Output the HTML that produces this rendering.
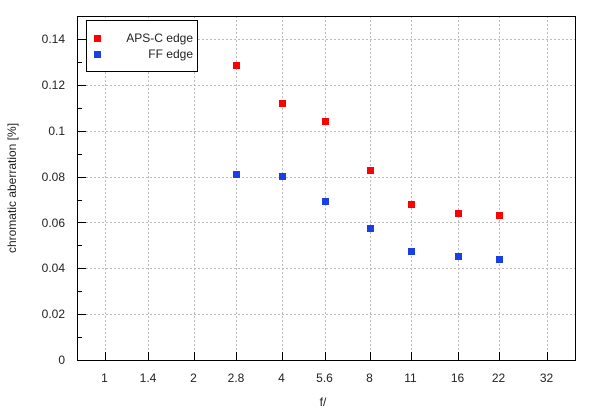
<!DOCTYPE html>
<html><head><style>body{margin:0;background:#fff}</style></head><body>
<svg width="600" height="415" xmlns="http://www.w3.org/2000/svg" font-family="Liberation Sans, sans-serif" font-size="12" fill="#222">
<rect width="600" height="415" fill="#fff"/>
<g stroke="#bbb" stroke-dasharray="2,2" stroke-width="1">
<line x1="78" x2="575" y1="314.5" y2="314.5"/><line x1="78" x2="575" y1="268.5" y2="268.5"/><line x1="78" x2="575" y1="222.5" y2="222.5"/><line x1="78" x2="575" y1="177.5" y2="177.5"/><line x1="78" x2="575" y1="131.5" y2="131.5"/><line x1="78" x2="575" y1="85.5" y2="85.5"/><line x1="78" x2="575" y1="39.5" y2="39.5"/>
<line x1="105.5" x2="105.5" y1="16" y2="360"/><line x1="148.5" x2="148.5" y1="16" y2="360"/><line x1="194.5" x2="194.5" y1="16" y2="360"/><line x1="236.5" x2="236.5" y1="16" y2="360"/><line x1="282.5" x2="282.5" y1="16" y2="360"/><line x1="325.5" x2="325.5" y1="16" y2="360"/><line x1="370.5" x2="370.5" y1="16" y2="360"/><line x1="411.5" x2="411.5" y1="16" y2="360"/><line x1="458.5" x2="458.5" y1="16" y2="360"/><line x1="499.5" x2="499.5" y1="16" y2="360"/><line x1="547.5" x2="547.5" y1="16" y2="360"/>
</g>
<g stroke="#000" stroke-width="1">
<line x1="78" x2="86" y1="314.5" y2="314.5"/><line x1="78" x2="86" y1="268.5" y2="268.5"/><line x1="78" x2="86" y1="222.5" y2="222.5"/><line x1="78" x2="86" y1="177.5" y2="177.5"/><line x1="78" x2="86" y1="131.5" y2="131.5"/><line x1="78" x2="86" y1="85.5" y2="85.5"/><line x1="78" x2="86" y1="39.5" y2="39.5"/>
<line x1="78" x2="82" y1="337.5" y2="337.5"/><line x1="78" x2="82" y1="291.5" y2="291.5"/><line x1="78" x2="82" y1="245.5" y2="245.5"/><line x1="78" x2="82" y1="200.5" y2="200.5"/><line x1="78" x2="82" y1="154.5" y2="154.5"/><line x1="78" x2="82" y1="108.5" y2="108.5"/><line x1="78" x2="82" y1="62.5" y2="62.5"/>
<line x1="105.5" x2="105.5" y1="352" y2="360"/><line x1="148.5" x2="148.5" y1="352" y2="360"/><line x1="194.5" x2="194.5" y1="352" y2="360"/><line x1="236.5" x2="236.5" y1="352" y2="360"/><line x1="282.5" x2="282.5" y1="352" y2="360"/><line x1="325.5" x2="325.5" y1="352" y2="360"/><line x1="370.5" x2="370.5" y1="352" y2="360"/><line x1="411.5" x2="411.5" y1="352" y2="360"/><line x1="458.5" x2="458.5" y1="352" y2="360"/><line x1="499.5" x2="499.5" y1="352" y2="360"/><line x1="547.5" x2="547.5" y1="352" y2="360"/>
</g>
<rect x="77.5" y="16.5" width="498" height="344" fill="none" stroke="#000"/>
<g text-anchor="end">
<text x="65" y="364">0</text><text x="65" y="318">0.02</text><text x="65" y="272">0.04</text><text x="65" y="227">0.06</text><text x="65" y="181">0.08</text><text x="65" y="135">0.1</text><text x="65" y="89">0.12</text><text x="65" y="43">0.14</text>
</g>
<g text-anchor="middle">
<text x="104.5" y="382">1</text><text x="148" y="382">1.4</text><text x="193.5" y="382">2</text><text x="236" y="382">2.8</text><text x="281.5" y="382">4</text><text x="324.5" y="382">5.6</text><text x="369.5" y="382">8</text><text x="410.5" y="382">11</text><text x="457.5" y="382">16</text><text x="498.5" y="382">22</text><text x="546.5" y="382">32</text>
<text x="323" y="406">f/</text>
<text transform="translate(16,188) rotate(-90)">chromatic aberration [%]</text>
</g>
<g fill="#f00">
<rect x="233" y="62" width="7" height="7"/><rect x="279" y="100" width="7" height="7"/><rect x="322" y="118" width="7" height="7"/><rect x="367" y="167" width="7" height="7"/><rect x="408" y="201" width="7" height="7"/><rect x="455" y="210" width="7" height="7"/><rect x="496" y="212" width="7" height="7"/>
</g>
<g fill="#1a3fe6">
<rect x="233" y="171" width="7" height="7"/><rect x="279" y="173" width="7" height="7"/><rect x="322" y="198" width="7" height="7"/><rect x="367" y="225" width="7" height="7"/><rect x="408" y="248" width="7" height="7"/><rect x="455" y="253" width="7" height="7"/><rect x="496" y="256" width="7" height="7"/>
</g>
<rect x="86.5" y="20.5" width="111" height="51" fill="#fff" stroke="#000"/>
<rect x="94" y="35" width="7" height="7" fill="#f00"/>
<rect x="94" y="51" width="7" height="7" fill="#1a3fe6"/>
<g text-anchor="end"><text x="193" y="42">APS-C edge</text><text x="193" y="58">FF edge</text></g>
</svg>
</body></html>
